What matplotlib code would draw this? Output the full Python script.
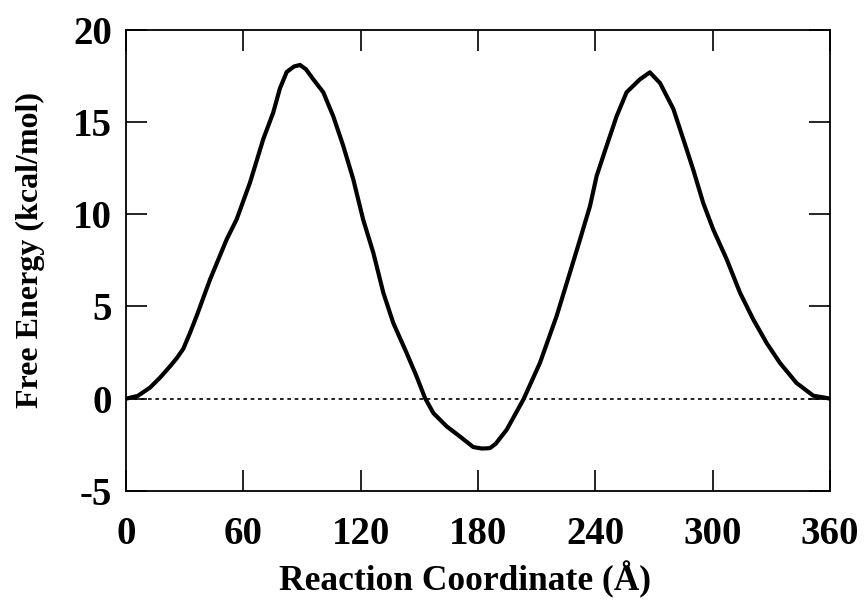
import matplotlib
matplotlib.use("Agg")
import matplotlib.pyplot as plt

# Reaction coordinate (Å) and free energy (kcal/mol)
coord = [0, 6, 12.3, 17.5, 22.5, 26, 29.3, 32.5, 36.1, 43, 51.5, 56.6, 63.4,
         70.2, 75.3, 78.7, 82.2, 86, 89, 92, 95.8, 100.9, 106, 111.1, 116.2,
         121.3, 126.5, 131.6, 136.7, 143.5, 148.6, 152.9, 157.2, 164, 170.8,
         177.6, 182, 186.1, 189, 194.7, 203.2, 211.7, 220.2, 227, 232.2,
         237.3, 240.7, 245.8, 250.9, 256, 262.8, 267.9, 273.1, 279.9, 285,
         290.1, 295.2, 300.3, 307.2, 314, 320.8, 327.6, 334.4, 342.9, 351.5,
         358.3, 360]
energy = [0, 0.15, 0.6, 1.15, 1.75, 2.2, 2.7, 3.5, 4.47, 6.46, 8.63, 9.72,
          11.7, 14.06, 15.5, 16.8, 17.7, 18.0, 18.08, 17.85, 17.3, 16.6, 15.3,
          13.7, 11.9, 9.7, 7.9, 5.74, 4.1, 2.48, 1.21, 0.04, -0.78, -1.5,
          -2.05, -2.62, -2.7, -2.68, -2.45, -1.68, -0.05, 1.94, 4.47, 6.82,
          8.63, 10.44, 12.07, 13.7, 15.3, 16.6, 17.3, 17.68, 17.1, 15.7,
          14.06, 12.4, 10.6, 9.17, 7.55, 5.74, 4.29, 3.02, 1.94, 0.85, 0.16,
          0.04, 0]

xticks = [0, 60, 120, 180, 240, 300, 360]
yticks = [-5, 0, 5, 10, 15, 20]
xlabel = "Reaction Coordinate (Å)"
ylabel = "Free Energy (kcal/mol)"

plt.rcParams['font.family'] = ['Liberation Serif', 'DejaVu Serif']
plt.rcParams['font.weight'] = 'bold'

fig = plt.figure(figsize=(8.64, 6), dpi=100)
ax = fig.add_axes([0.1458, 0.1817, 0.9606 - 0.1458, 0.9508 - 0.1817])

ax.axhline(0, color='black', lw=1.2, ls=(0, (2.2, 2.2)), zorder=1)
ax.plot(coord, energy, color='black', lw=3.0, solid_capstyle='round',
        solid_joinstyle='round', zorder=2)

ax.set_xlim(0, 360)
ax.set_ylim(-5, 20)
ax.set_xticks(xticks)
ax.set_yticks(yticks)
ax.set_xticklabels([str(t) for t in xticks])
ax.set_yticklabels([str(t) for t in yticks])

ax.tick_params(axis='both', direction='in', length=15, width=1.2,
               top=True, right=True, labelsize=28, colors='black')
ax.tick_params(axis='x', pad=18)
ax.tick_params(axis='y', pad=10)
for lab in ax.get_xticklabels() + ax.get_yticklabels():
    lab.set_fontweight('bold')
for s in ax.spines.values():
    s.set_linewidth(1.3)

ax.set_xlabel(xlabel, fontsize=25.5, fontweight='bold', va='top')
ax.set_ylabel(ylabel, fontsize=23, fontweight='bold')
ax.xaxis.set_label_coords(0.4815, -0.152)
ax.yaxis.set_label_coords(-0.115, 0.522)

fig.savefig("out.png", dpi=100)
